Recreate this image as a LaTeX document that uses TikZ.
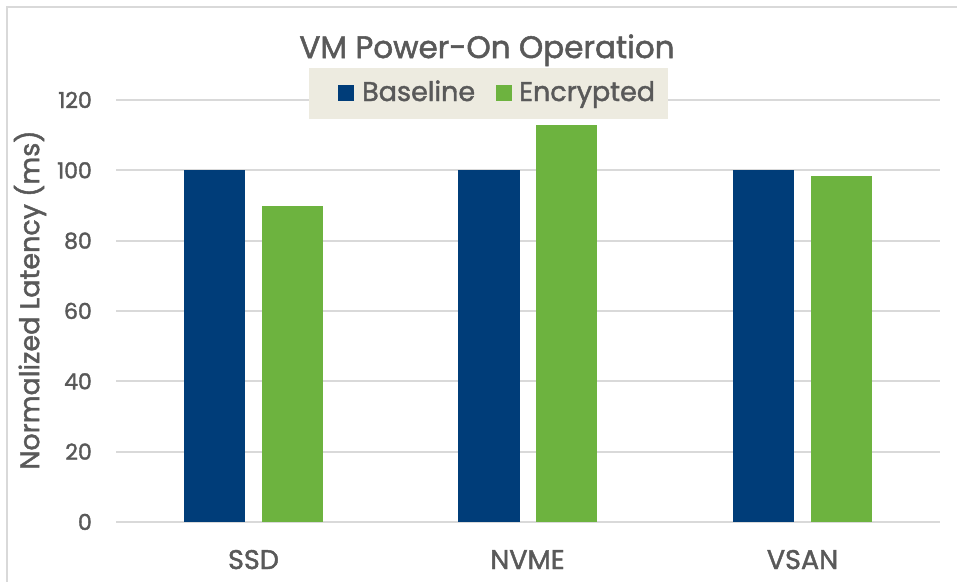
\documentclass[tikz,border=0pt]{standalone}
\usepackage{fontspec}
\setmainfont{Poppins}[BoldFont=Poppins, BoldFeatures={FakeBold=1.6}]
\definecolor{framegray}{HTML}{D9D9D9}
\definecolor{gridgray}{HTML}{D9D9D9}
\definecolor{txtgray}{HTML}{595959}
\definecolor{baseblue}{HTML}{003D79}
\definecolor{encgreen}{HTML}{6DB33F}
\definecolor{legfill}{HTML}{EDEBE0}
\tikzset{
  gridline/.style={gridgray, line width=2pt},
  ticklabel/.style={anchor=base east, text=txtgray, font=\fontsize{22}{24}\selectfont\bfseries, inner sep=0pt},
  catlabel/.style={anchor=base, text=txtgray, font=\fontsize{27}{30}\selectfont\bfseries, inner sep=0pt},
  legtext/.style={anchor=base west, text=txtgray, font=\fontsize{27}{30}\selectfont\bfseries, inner sep=0pt},
  basebar/.style={fill=baseblue},
  encbar/.style={fill=encgreen}
}
\begin{document}
\begin{tikzpicture}[x=1pt,y=-1pt]
\useasboundingbox (0,0) rectangle (957,581);
\fill[white] (0,0) rectangle (957,581);
% frame
\draw[framegray, line width=2pt] (7,600) -- (7,7) -- (980,7);
% gridlines and tick labels
\foreach \v in {0,20,...,120} {
  \pgfmathsetmacro{\yy}{522-\v*3.51667}
  \draw[gridline] (116,\yy) -- (940,\yy);
  \node[ticklabel] (tick\v) at (92,\yy+8) {\v};
}
% bars
\fill[basebar] (184,522) rectangle (245,170.3);
\fill[encbar]  (262,522) rectangle (323,205.8);
\fill[basebar] (458,522) rectangle (520,170.3);
\fill[encbar]  (536,522) rectangle (597,124.6);
\fill[basebar] (733,522) rectangle (794,170.3);
\fill[encbar]  (811,522) rectangle (872,175.7);
% category labels
\node[catlabel] (ssd) at (253.5,569) {SSD};
\node[catlabel] (nvme) at (527.5,569) {NVME};
\node[catlabel] (vsan) at (802.5,569) {VSAN};
% axis title
\node[rotate=90, text=txtgray, font=\fontsize{27}{30}\selectfont\bfseries, inner sep=0pt] (ylab) at (30,300) {Normalized Latency (ms)};
% legend
\fill[legfill] (309,68) rectangle (668,119);
\fill[baseblue] (338,85) rectangle (354,101);
\node[legtext] (legbase) at (362,101) {Baseline};
\fill[encgreen] (496,85) rectangle (512,101);
\node[legtext] (legenc) at (519,101) {Encrypted};
% title
\node[anchor=base, text=txtgray, font=\fontsize{31}{34}\selectfont\bfseries, inner sep=0pt] (title) at (487,58) {VM Power-On Operation};
\end{tikzpicture}
\end{document}
